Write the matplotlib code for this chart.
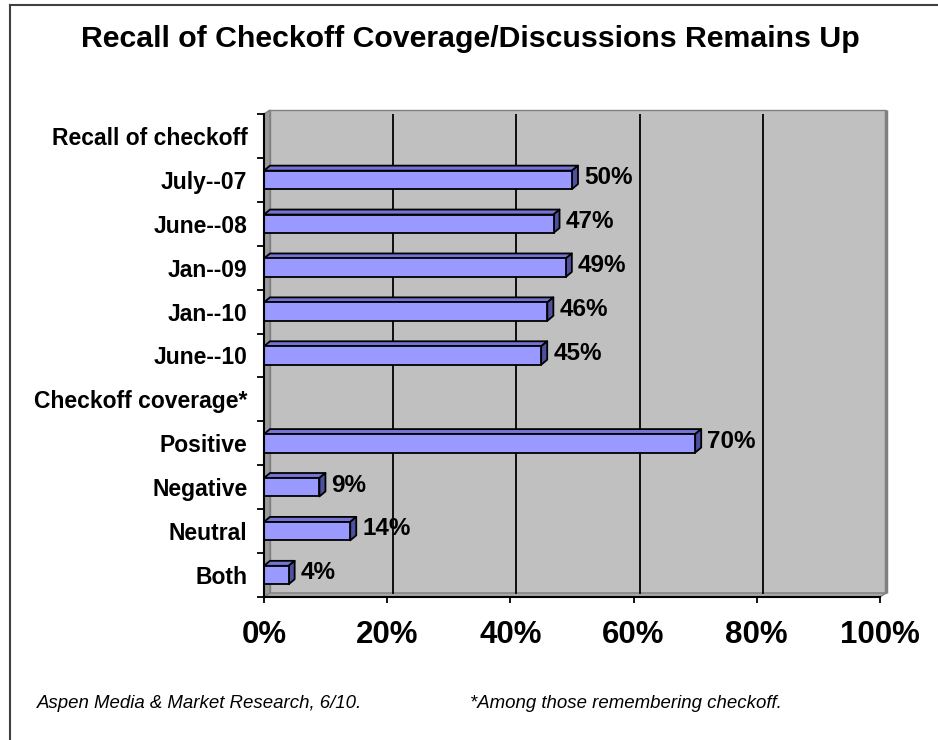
import matplotlib
matplotlib.use("Agg")
import matplotlib.pyplot as plt
from matplotlib.patches import Polygon
from matplotlib.lines import Line2D

plt.rcParams['font.family'] = ['Liberation Sans', 'DejaVu Sans']

# ---- data ----
categories = ["Recall of checkoff", "July--07", "June--08", "Jan--09", "Jan--10",
              "June--10", "Checkoff coverage*", "Positive", "Negative", "Neutral", "Both"]
values = [None, 50, 47, 49, 46, 45, None, 70, 9, 14, 4]
xticks = [0, 20, 40, 60, 80, 100]
xtick_labels = ["0%", "20%", "40%", "60%", "80%", "100%"]
title = "Recall of Checkoff Coverage/Discussions Remains Up"
footer_left = "Aspen Media & Market Research, 6/10."
footer_right = "*Among those remembering checkoff."

W, H, DPI = 938, 740, 100
fig = plt.figure(figsize=(W / DPI, H / DPI), dpi=DPI)
fig.patch.set_facecolor("white")

# axes: front plane x 264..880 px, y 114..597 px
ax_l, ax_r, ax_t, ax_b = 264, 880, 114, 597
ax = fig.add_axes([ax_l / W, 1 - ax_b / H, (ax_r - ax_l) / W, (ax_b - ax_t) / H])
n = len(categories)
ax.set_xlim(0, 100)
ax.set_ylim(n - 0.5, -0.5)
ax.set_facecolor("none")

px_x = 100 / (ax_r - ax_l)
px_y = n / (ax_b - ax_t)
# wall depth offset
WDX, WDY = 6 * px_x, -4 * px_y
# bar depth offset
BDX, BDY = 6 * px_x, -5 * px_y

y0, y1 = -0.5, n - 0.5
wall_gray = "#C0C0C0"
edge_gray = "#808080"
# back wall
ax.add_patch(Polygon([(WDX, y0 + WDY), (100 + WDX, y0 + WDY), (100 + WDX, y1 + WDY), (WDX, y1 + WDY)],
                     closed=True, facecolor=wall_gray, edgecolor=edge_gray, lw=1.0, zorder=0.5, clip_on=False))
# right edge thickness
ax.plot([100 + WDX, 100 + WDX], [y0 + WDY, y1 + WDY], color=edge_gray, lw=2.5, zorder=0.6, clip_on=False,
        solid_capstyle="butt")
# left side wall
ax.add_patch(Polygon([(0, y0), (WDX, y0 + WDY), (WDX, y1 + WDY), (0, y1)],
                     closed=True, facecolor="#9A9A9A", edgecolor=edge_gray, lw=1.0, zorder=0.55, clip_on=False))
# floor
ax.add_patch(Polygon([(0, y1), (WDX, y1 + WDY), (100 + WDX, y1 + WDY), (100, y1)],
                     closed=True, facecolor="#A8A8A8", edgecolor=edge_gray, lw=1.0, zorder=0.55, clip_on=False))
# gridlines on back wall
for gx in xticks[1:-1]:
    ax.plot([gx + WDX, gx + WDX], [y0 + WDY, y1 + WDY], color="black", lw=1.3, zorder=0.7)

# bars
h = 0.42
front = "#9999FF"
top_c = "#7474D4"
side_c = "#5050A0"
for i, v in enumerate(values):
    if v is None:
        continue
    yt, yb = i - h / 2, i + h / 2
    ax.add_patch(Polygon([(0, yt), (BDX, yt + BDY), (v + BDX, yt + BDY), (v, yt)], closed=True,
                         facecolor=top_c, edgecolor="black", lw=1.3, zorder=2, joinstyle="round"))
    ax.add_patch(Polygon([(v, yt), (v + BDX, yt + BDY), (v + BDX, yb + BDY), (v, yb)], closed=True,
                         facecolor=side_c, edgecolor="black", lw=1.3, zorder=2, joinstyle="round"))
    ax.barh(i, v, height=h, color=front, edgecolor="black", linewidth=1.3, zorder=3)
    ax.text(v + BDX + 6 * px_x, i - 0.05, f"{v}%", ha="left", va="center",
            fontsize=17.5, fontweight="bold", zorder=5)

# axes styling
for s in ["top", "right"]:
    ax.spines[s].set_visible(False)
for s in ["left", "bottom"]:
    ax.spines[s].set_color("black")
    ax.spines[s].set_linewidth(1.5)
    ax.spines[s].set_zorder(4)

ax.set_xticks(xticks)
ax.set_xticklabels(xtick_labels, fontsize=22.5, fontweight="bold")
ax.tick_params(axis="x", direction="out", length=4.5, width=1.3, pad=12)

ax.set_yticks(range(n))
ax.set_yticklabels(categories, fontsize=16.5, fontweight="bold")
ax.tick_params(axis="y", which="major", length=0, pad=12)
ax.set_yticks([k - 0.5 for k in range(n + 1)], minor=True)
ax.tick_params(axis="y", which="minor", direction="out", length=5, width=1.3)

# title & footer
fig.text(470 / W, 1 - 39 / H, title, ha="center", va="center", fontsize=21.8, fontweight="bold")
fig.text(37 / W, 1 - 703 / H, footer_left, ha="left", va="center", fontsize=13.4, style="italic")
fig.text(470 / W, 1 - 703 / H, footer_right, ha="left", va="center", fontsize=13.4, style="italic")

# outer border (top and left)
fig.add_artist(Line2D([10 / W, 1], [1 - 5 / H, 1 - 5 / H], color="#404040", lw=1.5))
fig.add_artist(Line2D([10 / W, 10 / W], [0, 1 - 5 / H], color="#404040", lw=1.5))

fig.savefig("out.png", dpi=DPI, facecolor="white")
